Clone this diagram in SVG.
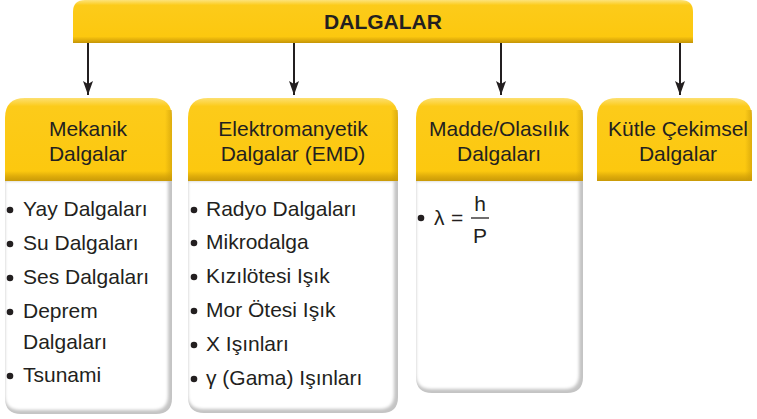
<svg xmlns="http://www.w3.org/2000/svg" width="757" height="419" viewBox="0 0 757 419">
<style>
.t{font-family:"Liberation Sans",Arial,sans-serif;font-size:21px;fill:#231f20}
.h{text-anchor:middle}
.b{fill:#231f20}
.conn line{stroke:#231f20;stroke-width:2}
</style>
<defs>
<linearGradient id="hg" x1="0" y1="0" x2="0" y2="1">
<stop offset="0" stop-color="#fde070"/>
<stop offset="0.1" stop-color="#fccb1a"/>
<stop offset="0.88" stop-color="#fcc80f"/>
<stop offset="0.94" stop-color="#e0ad0a"/>
<stop offset="1" stop-color="#c99a08"/>
</linearGradient>
<linearGradient id="tg" x1="0" y1="0" x2="0" y2="1">
<stop offset="0" stop-color="#fde37a"/>
<stop offset="0.12" stop-color="#fccb1a"/>
<stop offset="0.85" stop-color="#fcc80f"/>
<stop offset="0.93" stop-color="#e0ad0a"/>
<stop offset="1" stop-color="#c49507"/>
</linearGradient>
<linearGradient id="rg" x1="0" y1="0" x2="1" y2="0">
<stop offset="0" stop-color="#c99a08" stop-opacity="0"/>
<stop offset="1" stop-color="#c99a08" stop-opacity="0.6"/>
</linearGradient>
<filter id="bl" x="-5%" y="-5%" width="110%" height="110%"><feGaussianBlur stdDeviation="1.6"/></filter>
<marker id="ah" markerWidth="14" markerHeight="10" refX="14" refY="5" orient="auto" markerUnits="userSpaceOnUse" viewBox="0 0 14 10">
<path d="M0,0 L14,5 L0,10 L3,5 Z" fill="#231f20"/>
</marker>
</defs>
<rect width="757" height="419" fill="#fff"/>

<g id="top">
<path d="M73,43 V12 Q73,0 85,0 H681 Q693,0 693,12 V43 Z" fill="url(#tg)"/>
<text class="t h" x="383" y="29" style="font-weight:bold">DALGALAR</text>
</g>

<g id="connectors" class="conn">
<line x1="88" y1="43" x2="88" y2="95" marker-end="url(#ah)"/>
<line x1="294" y1="43" x2="294" y2="95" marker-end="url(#ah)"/>
<line x1="501" y1="43" x2="501" y2="95" marker-end="url(#ah)"/>
<line x1="680" y1="43" x2="680" y2="95" marker-end="url(#ah)"/>
</g>

<g id="mekanik">
<path d="M5,181 V398 Q5,414 21,414 H156 Q172,414 172,398 V181 Z" fill="#c4c4c4"/>
<path d="M5,181 V395 Q5,410 20,410 H154 Q168,410 168,395 V181 Z" fill="#fff" filter="url(#bl)"/>
<path d="M5,181 V118 Q5,98 25,98 H152 Q172,98 172,118 V181 Z" fill="url(#hg)"/>
<rect x="165" y="110" width="7" height="71" fill="url(#rg)"/>
<text class="t h" x="88" y="136">Mekanik</text>
<text class="t h" x="88" y="161">Dalgalar</text>
<circle class="b" cx="10" cy="210" r="3.3"/><text class="t" x="23" y="216">Yay Dalgaları</text>
<circle class="b" cx="10" cy="244" r="3.3"/><text class="t" x="23" y="250">Su Dalgaları</text>
<circle class="b" cx="10" cy="278" r="3.3"/><text class="t" x="23" y="284">Ses Dalgaları</text>
<circle class="b" cx="10" cy="312" r="3.3"/><text class="t" x="23" y="318">Deprem</text>
<text class="t" x="23" y="349">Dalgaları</text>
<circle class="b" cx="10" cy="376" r="3.3"/><text class="t" x="23" y="382">Tsunami</text>
</g>

<g id="emd">
<path d="M188,181 V397 Q188,413 204,413 H382 Q398,413 398,397 V181 Z" fill="#c4c4c4"/>
<path d="M188,181 V394 Q188,409 203,409 H380 Q394,409 394,394 V181 Z" fill="#fff" filter="url(#bl)"/>
<path d="M188,181 V118 Q188,98 208,98 H378 Q398,98 398,118 V181 Z" fill="url(#hg)"/>
<rect x="391" y="110" width="7" height="71" fill="url(#rg)"/>
<text class="t h" x="293" y="136">Elektromanyetik</text>
<text class="t h" x="293" y="161">Dalgalar (EMD)</text>
<circle class="b" cx="194" cy="210" r="3.3"/><text class="t" x="206" y="216">Radyo Dalgaları</text>
<circle class="b" cx="194" cy="243" r="3.3"/><text class="t" x="206" y="249">Mikrodalga</text>
<circle class="b" cx="194" cy="277" r="3.3"/><text class="t" x="206" y="283">Kızılötesi Işık</text>
<circle class="b" cx="194" cy="311" r="3.3"/><text class="t" x="206" y="317">Mor Ötesi Işık</text>
<circle class="b" cx="194" cy="345" r="3.3"/><text class="t" x="206" y="351">X Işınları</text>
<circle class="b" cx="194" cy="379" r="3.3"/><text class="t" x="206" y="385">γ (Gama) Işınları</text>
</g>

<g id="madde">
<path d="M416,181 V377 Q416,393 432,393 H567 Q583,393 583,377 V181 Z" fill="#c4c4c4"/>
<path d="M416,181 V374 Q416,389 431,389 H565 Q579,389 579,374 V181 Z" fill="#fff" filter="url(#bl)"/>
<path d="M416,181 V118 Q416,98 436,98 H563 Q583,98 583,118 V181 Z" fill="url(#hg)"/>
<rect x="576" y="110" width="7" height="71" fill="url(#rg)"/>
<text class="t h" x="499" y="136">Madde/Olasılık</text>
<text class="t h" x="499" y="161">Dalgaları</text>
<circle class="b" cx="421" cy="218" r="3.3"/>
<text class="t" x="434" y="225">λ</text>
<text class="t" x="451" y="225">=</text>
<line x1="471" y1="218" x2="489" y2="218" stroke="#231f20" stroke-width="1.3"/>
<text class="t h" x="480" y="211">h</text>
<text class="t h" x="480" y="243">P</text>
</g>

<g id="kutle">
<path d="M597,181 V118 Q597,98 617,98 H732 Q752,98 752,118 V181 Z" fill="url(#hg)"/>
<rect x="745" y="110" width="7" height="71" fill="url(#rg)"/>
<text class="t h" x="678" y="136">Kütle Çekimsel</text>
<text class="t h" x="678" y="161">Dalgalar</text>
</g>
</svg>
